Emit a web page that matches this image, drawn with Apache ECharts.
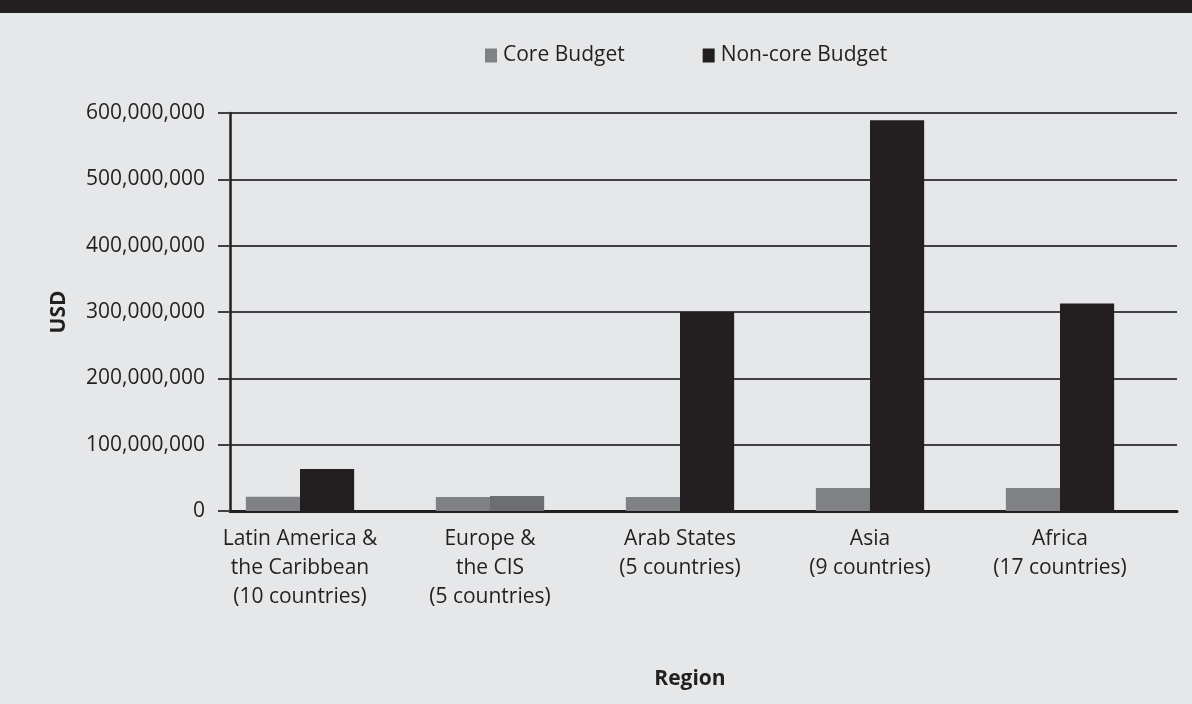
<!DOCTYPE html>
<html>
<head>
<meta charset="utf-8">
<script src="https://cdn.jsdelivr.net/npm/echarts@6/dist/echarts.min.js"></script>
<style>
  html, body { margin: 0; padding: 0; background: #e6e7e8; }
  #chart { width: 1192px; height: 704px; }
</style>
</head>
<body>
<div id="chart"></div>
<script>
// Regional budgets in USD
const regions = [
  'Latin America &\nthe Caribbean\n(10 countries)',
  'Europe &\nthe CIS\n(5 countries)',
  'Arab States\n(5 countries)',
  'Asia\n(9 countries)',
  'Africa\n(17 countries)'
];
const coreBudget = [21500000, 21000000, 21000000, 34500000, 34500000];
const nonCoreBudget = [63500000, 22500000, 300000000, 589000000, 313000000];
const yTicks = [0, 100000000, 200000000, 300000000, 400000000, 500000000, 600000000];

const ink = '#231f20';
const font = 'Open Sans';
const fs = 21;
const yMax = yTicks[yTicks.length - 1];
const yStep = yTicks[1] - yTicks[0];

const chart = echarts.init(document.getElementById('chart'), null, { renderer: 'canvas' });

chart.setOption({
  backgroundColor: '#e6e7e8',
  animation: false,
  textStyle: { fontFamily: font, color: ink },
  graphic: [
    { type: 'rect', left: 0, top: 0, shape: { width: 1192, height: 13 }, style: { fill: ink } }
  ],
  legend: {
    top: 40,
    left: 480,
    itemWidth: 12,
    itemHeight: 14,
    itemGap: 78,
    icon: 'rect',
    textStyle: { fontFamily: font, fontSize: fs, color: ink, padding: [0, 0, 0, 1] },
    data: ['Core Budget', 'Non-core Budget']
  },
  grid: [
    // grid that places the bars
    { left: 205, right: 37, top: 113, bottom: 193 },
    // grid that carries the value axis, gridlines and baseline
    { left: 230, right: 15, top: 113, bottom: 193 }
  ],
  xAxis: [
    {
      type: 'category',
      gridIndex: 0,
      data: regions,
      axisLine: { show: false },
      axisTick: { show: false },
      axisLabel: {
        interval: 0, hideOverlap: false,
        fontFamily: font, fontSize: fs, color: ink, lineHeight: 29, margin: 14
      },
      name: 'Region',
      nameLocation: 'middle',
      nameGap: 158,
      nameTextStyle: { fontFamily: font, fontSize: fs, fontWeight: 'bold', color: ink, padding: [0, 0, 0, 20] }
    },
    {
      type: 'value',
      gridIndex: 1,
      min: 0, max: 1,
      axisLine: { show: true, onZero: false, lineStyle: { color: ink, width: 3 } },
      axisTick: { show: false },
      axisLabel: { show: false },
      splitLine: { show: false }
    }
  ],
  yAxis: [
    { type: 'value', gridIndex: 0, min: 0, max: yMax, interval: yStep, show: false },
    {
      type: 'value',
      gridIndex: 1,
      min: 0, max: yMax, interval: yStep,
      axisLine: { show: true, lineStyle: { color: ink, width: 2.5 } },
      axisTick: { show: true, inside: false, length: 12, lineStyle: { color: '#414042', width: 2 } },
      splitLine: { show: true, lineStyle: { color: '#414042', width: 2 } },
      axisLabel: {
        margin: 25,
        fontFamily: font, fontSize: fs, color: ink,
        formatter: v => v.toLocaleString('en-US')
      },
      name: 'USD',
      nameLocation: 'middle',
      nameGap: 160,
      nameRotate: 90,
      nameTextStyle: { fontFamily: font, fontSize: fs, fontWeight: 'bold', color: ink }
    }
  ],
  series: [
    {
      name: 'Core Budget',
      type: 'bar',
      xAxisIndex: 0, yAxisIndex: 0,
      data: coreBudget,
      itemStyle: { color: '#808184' },
      barGap: '0%',
      barCategoryGap: '43%',
      z: 3
    },
    {
      name: 'Non-core Budget',
      type: 'bar',
      xAxisIndex: 0, yAxisIndex: 0,
      data: nonCoreBudget.map((v, i) => i === 1 ? { value: v, itemStyle: { color: '#6d6e71' } } : v),
      itemStyle: { color: ink },
      z: 3
    }
  ]
});
</script>
</body>
</html>
